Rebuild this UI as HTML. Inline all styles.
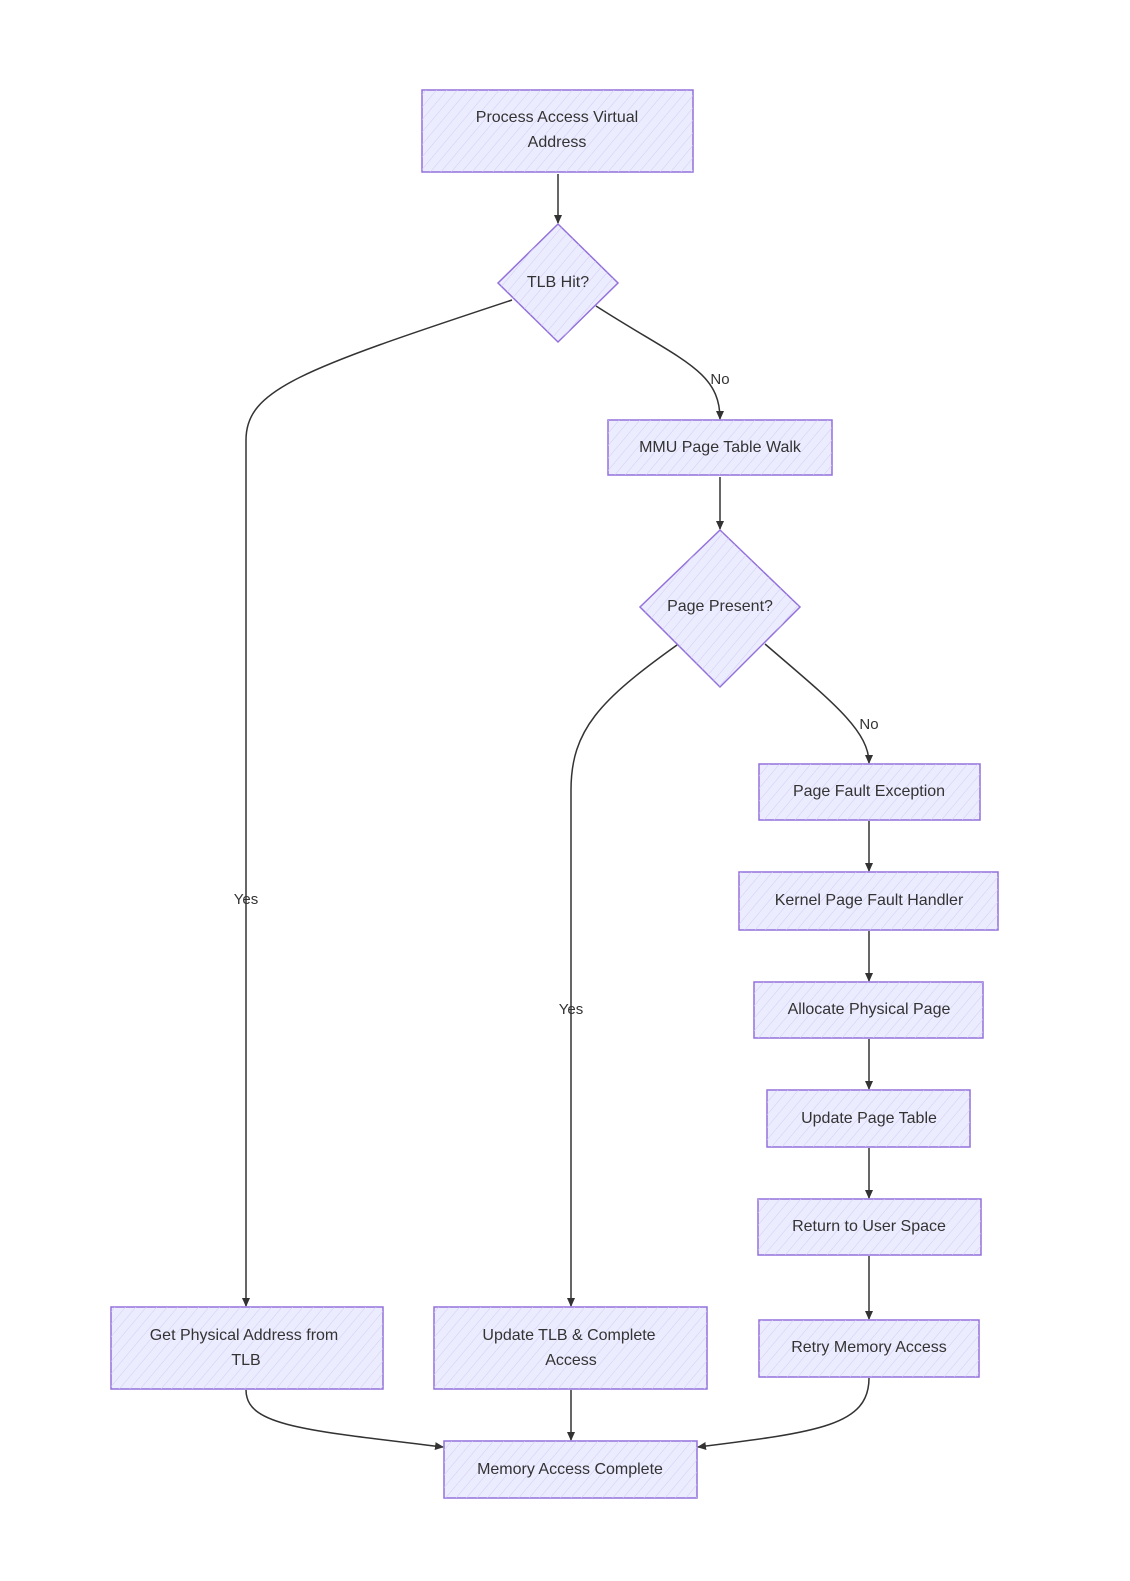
<!DOCTYPE html>
<html><head><meta charset="utf-8"><style>
html,body{margin:0;padding:0;background:#fff;}
svg text{font-family:"Liberation Sans","DejaVu Sans",sans-serif;font-size:16px;fill:#333;text-anchor:middle;dominant-baseline:middle;}
.n{fill:#ececff;stroke:#9370db;stroke-width:1.5;}
.h{fill:url(#hatch);stroke:none;}
.e{fill:none;stroke:#333;stroke-width:1.5;}
.lb{font-size:15px;}
</style></head><body>
<svg width="1130" height="1576" viewBox="0 0 1130 1576" xmlns="http://www.w3.org/2000/svg">
<defs>
<pattern id="hatch" width="8" height="8" patternUnits="userSpaceOnUse" patternTransform="rotate(40)">
<line x1="0" y1="0" x2="0" y2="8" stroke="#d2ccf2" stroke-width="1"/>
</pattern>
<marker id="ar" markerWidth="10" markerHeight="10" refX="8" refY="5" orient="auto" markerUnits="userSpaceOnUse">
<path d="M0,1 L9,5 L0,9 z" fill="#333"/>
</marker>
</defs>

<path class="e" marker-end="url(#ar)" d="M558,174 L558,223"/>
<path class="e" marker-end="url(#ar)" d="M512,300 C300,370 246,390 246,440 L246,1306"/>
<path class="e" marker-end="url(#ar)" d="M596,306 C680,360 720,370 720,419"/>
<path class="e" marker-end="url(#ar)" d="M720,477 L720,529"/>
<path class="e" marker-end="url(#ar)" d="M677,645 C600,700 571,730 571,790 L571,1306"/>
<path class="e" marker-end="url(#ar)" d="M765,644 C830,700 869,730 869,763"/>
<path class="e" marker-end="url(#ar)" d="M869,821 L869,871"/>
<path class="e" marker-end="url(#ar)" d="M869,931 L869,981"/>
<path class="e" marker-end="url(#ar)" d="M869,1039 L869,1089"/>
<path class="e" marker-end="url(#ar)" d="M869,1148 L869,1198"/>
<path class="e" marker-end="url(#ar)" d="M869,1256 L869,1319"/>
<path class="e" marker-end="url(#ar)" d="M246,1390 C246,1425 300,1430 443,1447"/>
<path class="e" marker-end="url(#ar)" d="M571,1390 L571,1440"/>
<path class="e" marker-end="url(#ar)" d="M869,1378 C869,1425 820,1432 698,1447"/>

<text class="lb" x="246" y="900">Yes</text>
<text class="lb" x="720" y="380">No</text>
<text class="lb" x="571" y="1010">Yes</text>
<text class="lb" x="869" y="725">No</text>

<g>
<rect class="n" x="422" y="90" width="271" height="82"/><rect class="h" x="422" y="90" width="271" height="82"/>
<text x="557" y="118">Process Access Virtual</text><text x="557" y="143">Address</text>

<polygon class="n" points="558,224 618,283 558,342 498,283"/><polygon class="h" points="558,224 618,283 558,342 498,283"/>
<text x="558" y="283">TLB Hit?</text>

<rect class="n" x="608" y="420" width="224" height="55"/><rect class="h" x="608" y="420" width="224" height="55"/>
<text x="720" y="448">MMU Page Table Walk</text>

<polygon class="n" points="720,530 800,607 720,687 640,607"/><polygon class="h" points="720,530 800,607 720,687 640,607"/>
<text x="720" y="607">Page Present?</text>

<rect class="n" x="759" y="764" width="221" height="56"/><rect class="h" x="759" y="764" width="221" height="56"/>
<text x="869" y="792">Page Fault Exception</text>

<rect class="n" x="739" y="872" width="259" height="58"/><rect class="h" x="739" y="872" width="259" height="58"/>
<text x="869" y="901">Kernel Page Fault Handler</text>

<rect class="n" x="754" y="982" width="229" height="56"/><rect class="h" x="754" y="982" width="229" height="56"/>
<text x="869" y="1010">Allocate Physical Page</text>

<rect class="n" x="767" y="1090" width="203" height="57"/><rect class="h" x="767" y="1090" width="203" height="57"/>
<text x="869" y="1119">Update Page Table</text>

<rect class="n" x="758" y="1199" width="223" height="56"/><rect class="h" x="758" y="1199" width="223" height="56"/>
<text x="869" y="1227">Return to User Space</text>

<rect class="n" x="759" y="1320" width="220" height="57"/><rect class="h" x="759" y="1320" width="220" height="57"/>
<text x="869" y="1348">Retry Memory Access</text>

<rect class="n" x="111" y="1307" width="272" height="82"/><rect class="h" x="111" y="1307" width="272" height="82"/>
<text x="244" y="1336">Get Physical Address from</text><text x="246" y="1361">TLB</text>

<rect class="n" x="434" y="1307" width="273" height="82"/><rect class="h" x="434" y="1307" width="273" height="82"/>
<text x="569" y="1336">Update TLB &amp; Complete</text><text x="571" y="1361">Access</text>

<rect class="n" x="444" y="1441" width="253" height="57"/><rect class="h" x="444" y="1441" width="253" height="57"/>
<text x="570" y="1470">Memory Access Complete</text>
</g>
</svg>
</body></html>
